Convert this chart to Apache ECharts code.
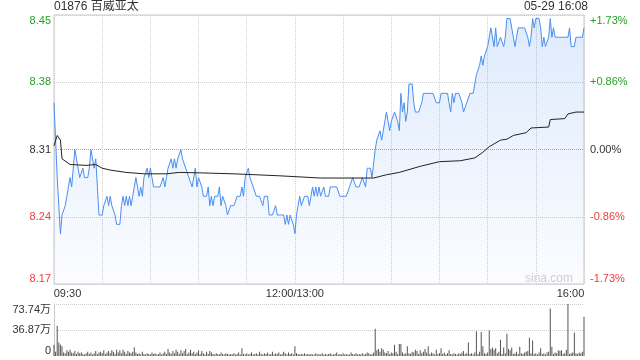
<!DOCTYPE html>
<html>
<head>
<meta charset="utf-8">
<script src="https://cdn.jsdelivr.net/npm/echarts@6/dist/echarts.min.js"></script>
<style>
html,body{margin:0;padding:0;background:#fff;}
#chart{width:640px;height:360px;}
</style>
</head>
<body>
<div id="chart"></div>
<script>
// ---- data ----
const stockTitle = '01876 百威亚太';
const stampText = '05-29 16:08';
const prevClose = 8.31;
const timeLabels = {0: '09:30', 150: '12:00/13:00', 330: '16:00'};
const priceTickLabels = ['8.17', '8.24', '8.31', '8.38', '8.45'];
const pctTickLabels = ['-1.73%', '-0.86%', '0.00%', '+0.86%', '+1.73%'];
const volTickLabels = ['0', '36.87万', '73.74万'];

// one price per minute (index 0 = 09:30, 150 = 12:00/13:00, 330 = 16:00)
const price = [
 8.36,8.32,8.28,8.25,8.22,8.24,8.24,8.25,8.26,8.27,
 8.28,8.27,8.29,8.31,8.30,8.29,8.28,8.28,8.29,8.28,
 8.28,8.28,8.29,8.31,8.31,8.29,8.30,8.27,8.24,8.24,
 8.24,8.25,8.25,8.26,8.25,8.26,8.25,8.25,8.24,8.23,
 8.23,8.23,8.25,8.26,8.25,8.26,8.25,8.26,8.25,8.26,
 8.26,8.28,8.28,8.26,8.27,8.26,8.28,8.28,8.29,8.28,
 8.29,8.28,8.27,8.27,8.27,8.27,8.27,8.27,8.28,8.27,
 8.28,8.29,8.29,8.30,8.29,8.30,8.29,8.30,8.30,8.31,
 8.30,8.30,8.29,8.29,8.28,8.28,8.27,8.27,8.29,8.27,
 8.28,8.28,8.27,8.26,8.26,8.26,8.27,8.25,8.26,8.25,
 8.26,8.26,8.26,8.27,8.25,8.26,8.26,8.25,8.24,8.24,
 8.25,8.25,8.25,8.25,8.26,8.26,8.26,8.27,8.26,8.28,
 8.28,8.29,8.28,8.28,8.27,8.27,8.26,8.26,8.26,8.26,
 8.25,8.26,8.26,8.26,8.24,8.24,8.24,8.24,8.25,8.24,
 8.24,8.24,8.24,8.24,8.23,8.24,8.23,8.24,8.24,8.23,
 8.22,8.24,8.25,8.26,8.25,8.25,8.26,8.26,8.26,8.25,
 8.26,8.27,8.26,8.27,8.26,8.27,8.26,8.26,8.27,8.26,
 8.26,8.26,8.27,8.27,8.27,8.27,8.27,8.27,8.26,8.26,
 8.26,8.26,8.26,8.26,8.27,8.27,8.28,8.28,8.27,8.27,
 8.27,8.27,8.28,8.28,8.27,8.29,8.29,8.29,8.28,8.28,
 8.31,8.32,8.32,8.33,8.32,8.33,8.34,8.35,8.34,8.33,
 8.34,8.34,8.35,8.35,8.34,8.33,8.37,8.35,8.36,8.34,
 8.35,8.38,8.38,8.38,8.36,8.35,8.35,8.35,8.35,8.36,
 8.37,8.37,8.37,8.37,8.37,8.37,8.37,8.37,8.36,8.36,
 8.36,8.37,8.37,8.37,8.37,8.37,8.36,8.35,8.37,8.36,
 8.37,8.37,8.37,8.37,8.36,8.35,8.35,8.36,8.36,8.37,
 8.37,8.37,8.38,8.39,8.39,8.40,8.41,8.40,8.41,8.41,
 8.42,8.43,8.44,8.44,8.42,8.44,8.42,8.42,8.43,8.43,
 8.42,8.43,8.45,8.45,8.45,8.44,8.43,8.42,8.43,8.44,
 8.44,8.44,8.44,8.44,8.44,8.43,8.42,8.43,8.45,8.44,
 8.45,8.45,8.45,8.44,8.42,8.43,8.42,8.42,8.43,8.45,
 8.43,8.44,8.43,8.43,8.43,8.43,8.43,8.43,8.43,8.43,
 8.43,8.44,8.42,8.42,8.42,8.43,8.43,8.43,8.43,8.43,
 8.44
];

// average price line, read at these minutes
const avgMinutes = [0,2,4,5,10,20,26,30,35,45,56,70,78,91,112,139,150,151,166,199,207,215,228,240,253,262,267,271,278,282,286,294,297,308,309,318,320,325,330];
const avgValues  = [8.314,8.325,8.32,8.30,8.294,8.293,8.294,8.29,8.288,8.2855,8.284,8.284,8.2855,8.285,8.284,8.282,8.281,8.2795,8.2795,8.2795,8.283,8.2855,8.292,8.297,8.298,8.301,8.307,8.313,8.32,8.321,8.325,8.328,8.333,8.334,8.342,8.343,8.348,8.35,8.35];

// volume per minute, in 万 shares
const volume = [
 15.8,6,43,19,16,14,5,4,8,6,
 9,5,4,7,3,6,4,5,3,2,
 4,6,3,5,2,4,7,3,5,6,
 4,8,3,5,7,4,8,6,3,9,
 5,8,4,9,6,3,7,5,4,6,
 12.4,5,3,4,2,6,3,2,4,3,
 2,5,3,4,2,3,5,2,4,6,
 3,10,5,3,7,4,9,6,3,8,
 4,7,10,3,5,9,4,6,3,5,
 8,3,7,4,2,6,3,7,5,3,
 2,4,3,2,5,3,2,4,3,2,
 3,2,4,2,3,5,2,11,3,2,
 4,2,3,5,2,3,4,2,6,3,
 2,4,3,5,2,3,6,2,4,3,
 5,2,3,6,4,2,5,3,4,2,
 14,4,3,2,3,2,4,2,3,2,
 3,2,2,4,2,3,2,4,2,3,
 2,3,4,2,2,3,5,2,3,2,
 4,2,3,2,2,5,3,2,4,2,
 3,2,4,2,3,5,4,2,3,5,
 38.7,8,10,6,11,9,5,4,7,3,
 5,4,16,6,3,17,17,5,3,4,
 14,4,3,6,5,9,7,3,8,4,
 6,10,5,14,3,5,4,2,9,3,
 4,11,3,5,2,4,8,3,2,4,
 3,2,4,3,5,7,3,4,19,3,
 4,2,5,35,3,6,34,14,4,3,
 5,36,10,12,9,11,4,6,23,3,
 12,4,31.6,10,8,12,3,4,6,3,
 13,4,3,5,6,7,26,4,22,3,
 4,2,5,11,3,4,2,5,6,67.4,
 13,3,5,4,8,7,8,3,4,9,
 73.74,3,4,5,33,4,3,5,4,6,
 55.6
];

// ---- chart ----
const FONT = '"Liberation Sans", "Noto Sans CJK SC", Arial, sans-serif';
const GREEN = '#22a322';
const RED = '#f03b3b';
const DARK = '#333';
const pctMin = -1.73, pctMax = 1.73, pctStep = 0.865;
const toPct = p => (p / prevClose - 1) * 100;
const tickIdx = v => Math.round((v - pctMin) / pctStep);
const styleKey = i => (i === 4 ? 'gt' : i === 3 ? 'g' : i === 2 ? 'k' : i === 1 ? 'r' : 'rb');
const richY = {
  gt: {color: GREEN, fontSize: 11, fontFamily: FONT, padding: [11, 0, 0, 0]},
  g:  {color: GREEN, fontSize: 11, fontFamily: FONT},
  k:  {color: DARK,  fontSize: 11, fontFamily: FONT},
  r:  {color: RED,   fontSize: 11, fontFamily: FONT},
  rb: {color: RED,   fontSize: 11, fontFamily: FONT, padding: [0, 0, 11, 0]}
};

const chart = echarts.init(document.getElementById('chart'), null, {renderer: 'canvas'});
chart.setOption({
  animation: false,
  backgroundColor: '#fff',
  textStyle: {fontFamily: FONT},
  title: [
    {text: stockTitle, left: 54, top: 1, padding: 0,
     textStyle: {fontSize: 12, fontWeight: 'normal', color: DARK, fontFamily: FONT}},
    {text: stampText, right: 52, top: 1, padding: 0,
     textStyle: {fontSize: 12, fontWeight: 'normal', color: DARK, fontFamily: FONT}}
  ],
  graphic: [{
    type: 'text', right: 67, top: 273, silent: true,
    style: {text: 'sina.com', fill: '#d0d0d0', font: '12px ' + FONT}
  }],
  grid: [
    {left: 54, right: 56, top: 15, height: 269, show: true, borderColor: '#c8c8c8', borderWidth: 1, backgroundColor: 'transparent'},
    {left: 54, right: 56, top: 304, height: 52}
  ],
  xAxis: [
    {type: 'value', gridIndex: 0, min: 0, max: 330, interval: 30,
     axisLine: {show: false}, axisTick: {show: false},
     splitLine: {show: true, lineStyle: {type: 'dotted', color: '#cfcfcf'}},
     axisLabel: {
       margin: 4, fontSize: 11, color: DARK, fontFamily: FONT,
       formatter: v => {
         if (v === 0) return '{l|' + timeLabels[0] + '}';
         if (v === 330) return '{r|' + timeLabels[330] + '}';
         return timeLabels[v] || '';
       },
       rich: {
         l: {fontSize: 11, color: DARK, fontFamily: FONT, padding: [0, 0, 0, 27]},
         r: {fontSize: 11, color: DARK, fontFamily: FONT, padding: [0, 27, 0, 0]}
       }
     }},
    {type: 'value', gridIndex: 1, min: 0, max: 330, show: false}
  ],
  yAxis: [
    {type: 'value', gridIndex: 0, position: 'left', min: pctMin, max: pctMax, interval: pctStep,
     axisLine: {show: false}, axisTick: {show: false},
     splitLine: {show: true, lineStyle: {type: 'dotted', color: ['#cfcfcf', '#cfcfcf', '#a8a8a8', '#cfcfcf', '#cfcfcf']}},
     axisLabel: {margin: 3, formatter: v => { const i = tickIdx(v); return '{' + styleKey(i) + '|' + priceTickLabels[i] + '}'; }, rich: richY}},
    {type: 'value', gridIndex: 0, position: 'right', min: pctMin, max: pctMax, interval: pctStep,
     axisLine: {show: false}, axisTick: {show: false}, splitLine: {show: false},
     axisLabel: {margin: 6, formatter: v => { const i = tickIdx(v); return '{' + styleKey(i) + '|' + pctTickLabels[i] + '}'; }, rich: richY}},
    {type: 'value', gridIndex: 1, min: 0, max: 73.74, interval: 36.87,
     axisLine: {show: true, lineStyle: {color: '#c8c8c8'}}, axisTick: {show: false},
     splitLine: {show: true, lineStyle: {type: 'dotted', color: ['transparent', '#cfcfcf', '#cfcfcf']}},
     axisLabel: {
       margin: 3,
       formatter: v => {
         const i = Math.round(v / 36.87);
         return '{' + (i === 2 ? 't' : i === 0 ? 'b' : 'm') + '|' + volTickLabels[i] + '}';
       },
       rich: {
         t: {color: DARK, fontSize: 11, fontFamily: FONT, padding: [11, 0, 0, 0]},
         m: {color: DARK, fontSize: 11, fontFamily: FONT},
         b: {color: DARK, fontSize: 11, fontFamily: FONT, padding: [0, 0, 11, 0]}
       }
     }}
  ],
  series: [
    {type: 'line', name: 'price', xAxisIndex: 0, yAxisIndex: 0,
     data: price.map((p, i) => [i, toPct(p)]),
     showSymbol: false, symbol: 'none',
     lineStyle: {color: '#4b8ef0', width: 1},
     areaStyle: {origin: 'start', color: new echarts.graphic.LinearGradient(0, 0, 0, 1, [
       {offset: 0, color: 'rgba(75,142,240,0.26)'},
       {offset: 1, color: 'rgba(75,142,240,0.03)'}
     ])},
     z: 2},
    {type: 'line', name: 'avg', xAxisIndex: 0, yAxisIndex: 0,
     data: avgMinutes.map((m, k) => [m, toPct(avgValues[k])]),
     showSymbol: false, symbol: 'none',
     lineStyle: {color: '#222', width: 1}, z: 3},
    {type: 'bar', name: 'volume', xAxisIndex: 1, yAxisIndex: 2,
     data: volume.map((v, i) => [i, v]),
     barWidth: 1, itemStyle: {color: '#555'}}
  ]
});
</script>
</body>
</html>
